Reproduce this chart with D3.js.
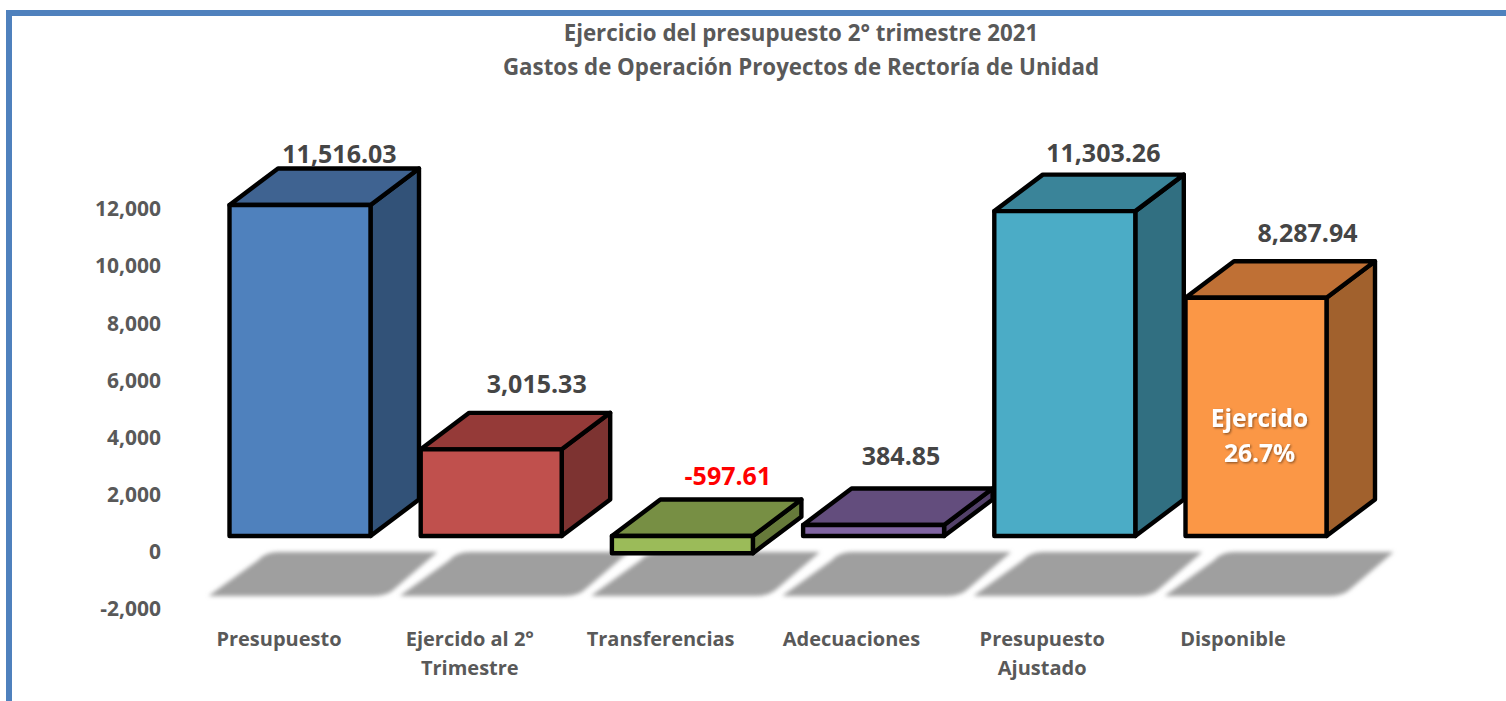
<!DOCTYPE html>
<html><head><meta charset="utf-8">
<script src="https://cdn.jsdelivr.net/npm/d3@7"></script>
<style>
html,body{margin:0;padding:0;background:#fff;overflow:hidden}
text{font-family:"Open Sans",sans-serif;font-weight:700}
</style></head><body>
<svg id="c" width="1506" height="701"></svg>
<script>
const titleLines = ["Ejercicio del presupuesto 2° trimestre 2021","Gastos de Operación Proyectos de Rectoría de Unidad"];
const categories = [["Presupuesto"],["Ejercido al 2°","Trimestre"],["Transferencias"],["Adecuaciones"],["Presupuesto","Ajustado"],["Disponible"]];
const values = [11516.03,3015.33,-597.61,384.85,11303.26,8287.94];
const tickValues = [-2000,0,2000,4000,6000,8000,10000,12000];
const frontColors = ["#4f81bd","#c0504d","#9bbb59","#8064a2","#4bacc6","#fb9746"];
const topColors = ["#3f6391","#953a38","#778f44","#634d7d","#3a8499","#bf7035"];
const sideColors = ["#325278","#7d3331","#667a3a","#53416a","#316f81","#a1612d"];
const labelNudgeX = [110,116,116,98,109,122];
const labelNudgeY = [-6,-20,-15,-24,-13,-20];
const noteLines = ["Ejercido","26.7%"];

const hyphen = s => s.replace("\u2212","-");
const svg = d3.select("#c");
const defs = svg.append("defs");
defs.append("filter").attr("id","blur").attr("x","-10%").attr("y","-20%").attr("width","120%").attr("height","140%")
  .append("feGaussianBlur").attr("stdDeviation",2);
const ds = defs.append("filter").attr("id","ts").attr("x","-20%").attr("y","-20%").attr("width","140%").attr("height","140%");
ds.append("feDropShadow").attr("dx",1.2).attr("dy",1.2).attr("stdDeviation",1).attr("flood-color","#000").attr("flood-opacity",.45);

// frame
svg.append("rect").attr("x",6).attr("y",10).attr("width",1500).attr("height",6).attr("fill","#4f81bd");
svg.append("rect").attr("x",6).attr("y",10).attr("width",6).attr("height",691).attr("fill","#4f81bd");

const idx = d3.range(values.length);
const x = d3.scaleBand().domain(idx).range([204.4,1351.6]).paddingInner(50.2/191.2).paddingOuter(50.2/382.4);
const y = d3.scaleLinear().domain([-2000,12000]).range([593.5,191.1]);
const yLabels = d3.scaleLinear().domain([-2000,12000]).range([609,209]);
const dX = 48.5, dY = -36.5;

// title
svg.append("g").selectAll("text").data(titleLines).join("text")
  .attr("x",801).attr("y",(d,i)=>41+i*33.5).attr("text-anchor","middle")
  .attr("font-size",22.3).attr("fill","#595959").text(d=>d);

// y axis
const axis = svg.append("g").attr("transform","translate(168,0)")
  .call(d3.axisLeft(yLabels).tickValues(tickValues).tickSize(0).tickPadding(7).tickFormat(d=>hyphen(d3.format(",")(d))));
axis.select(".domain").remove();
axis.selectAll("text").attr("font-size",21).attr("fill","#595959").attr("font-family",null);

// floor shadows
svg.append("g").selectAll("path").data(idx).join("path")
  .attr("filter","url(#blur)").attr("fill","#9f9f9f")
  .attr("d",i=>{
    const l = x(i)-21, t = y(0)+16, b = y(0)+60;
    const p = d3.path();
    p.moveTo(l+70,t); p.lineTo(l+229,t); p.lineTo(l+187,b-8);
    p.quadraticCurveTo(l+179,b,l+165,b); p.lineTo(l,b); p.lineTo(l+50,t+8);
    p.quadraticCurveTo(l+57,t,l+70,t); p.closePath();
    return p.toString();
  });

// bars
const bars = svg.append("g").selectAll("g").data(idx).join("g")
  .attr("stroke","#000").attr("stroke-width",4.4).attr("stroke-linejoin","round");
const left = i=>x(i), right = i=>x(i)+x.bandwidth();
const top_ = i=>Math.min(y(0),y(values[i])), bot = i=>Math.max(y(0),y(values[i]));
bars.append("path").attr("fill",i=>sideColors[i]).attr("d",i=>
  d3.line()([[right(i),top_(i)],[right(i)+dX,top_(i)+dY],[right(i)+dX,bot(i)+dY],[right(i),bot(i)]])+"Z");
bars.append("path").attr("fill",i=>topColors[i]).attr("d",i=>
  d3.line()([[left(i),top_(i)],[left(i)+dX,top_(i)+dY],[right(i)+dX,top_(i)+dY],[right(i),top_(i)]])+"Z");
bars.append("rect").attr("fill",i=>frontColors[i]).attr("x",left).attr("y",top_)
  .attr("width",x.bandwidth()).attr("height",i=>bot(i)-top_(i));

// value labels
svg.append("g").selectAll("text").data(idx).join("text")
  .attr("x",i=>x(i)+labelNudgeX[i]).attr("y",i=>top_(i)-36+labelNudgeY[i])
  .attr("text-anchor","middle").attr("font-size",25)
  .attr("fill",i=>values[i]<0?"#ff0000":"#454545")
  .text(i=>hyphen(d3.format(",.2f")(values[i])));

// category labels
svg.append("g").selectAll("text").data(idx).join("text")
  .attr("text-anchor","middle").attr("font-size",20).attr("fill","#595959")
  .each(function(i){
    d3.select(this).selectAll("tspan").data(categories[i]).join("tspan")
      .attr("x",x(i)+49.5-i*0.4).attr("y",(d,k)=>646+k*29).text(d=>d);
  });

// note in the last bar
const last = values.length-1;
svg.append("g").selectAll("text").data(noteLines).join("text")
  .attr("x",x(last)+74).attr("y",(d,k)=>y(0)-109+k*35)
  .attr("text-anchor","middle").attr("font-size",24.5).attr("fill","#fff")
  .attr("filter","url(#ts)").text(d=>d);
</script>
</body></html>
